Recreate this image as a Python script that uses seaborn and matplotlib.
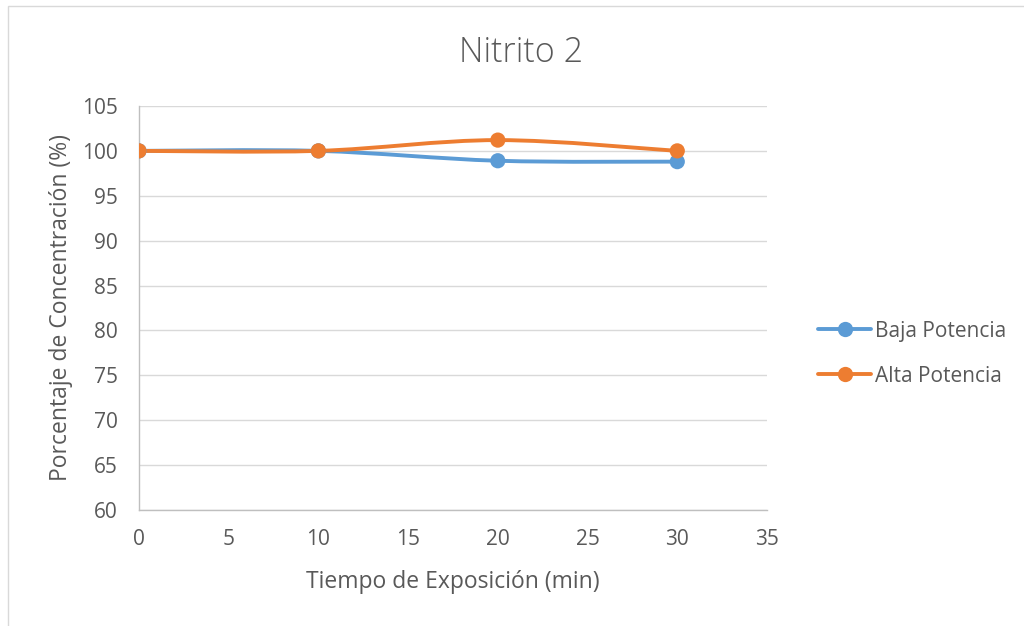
import numpy as np
import pandas as pd
import matplotlib
matplotlib.use("Agg")
import matplotlib.pyplot as plt
from matplotlib.path import Path
from matplotlib.patches import PathPatch, Rectangle
from matplotlib.lines import Line2D
import seaborn as sns

# Data
tiempo = [0, 10, 20, 30]
baja_potencia = [100.0, 100.0, 98.9, 98.8]
alta_potencia = [100.0, 100.0, 101.2, 100.0]
series_names = ["Baja Potencia", "Alta Potencia"]
x_ticks = [0, 5, 10, 15, 20, 25, 30, 35]
y_ticks = [60, 65, 70, 75, 80, 85, 90, 95, 100, 105]

colors = {"Baja Potencia": "#5B9BD5", "Alta Potencia": "#ED7D31"}
text_color = "#595959"

df = pd.DataFrame({
    "Tiempo": tiempo * 2,
    "Valor": baja_potencia + alta_potencia,
    "Serie": [series_names[0]] * len(tiempo) + [series_names[1]] * len(tiempo),
})

sns.set_theme(style="white")
plt.rcParams["font.family"] = ["Open Sans", "DejaVu Sans"]

fig = plt.figure(figsize=(10.24, 6.26), dpi=100)
ax = fig.add_axes([0.1357, 0.1853, 0.6133, 0.6454])

# Chart frame
fig.patches.append(Rectangle((8 / 1024, -0.01), 1.2, 1 - 6 / 626 + 0.01,
                             transform=fig.transFigure, fill=False,
                             edgecolor="#D9D9D9", linewidth=1.0))


def smooth_path(xs, ys):
    """Cardinal-spline style Bezier path through the points."""
    pts = np.column_stack([xs, ys]).astype(float)
    n = len(pts)
    verts = [pts[0]]
    codes = [Path.MOVETO]
    for i in range(n - 1):
        p0 = pts[i - 1] if i > 0 else pts[i]
        p1 = pts[i]
        p2 = pts[i + 1]
        p3 = pts[i + 2] if i + 2 < n else pts[i + 1]
        c1 = p1 + (p2 - p0) / 6.0
        c2 = p2 - (p3 - p1) / 6.0
        verts += [c1, c2, p2]
        codes += [Path.CURVE4] * 3
    return Path(verts, codes)


for name in series_names:
    sub = df[df["Serie"] == name]
    ax.add_patch(PathPatch(smooth_path(sub["Tiempo"], sub["Valor"]),
                           fill=False, edgecolor=colors[name], linewidth=2.8,
                           capstyle="round", zorder=3))

sns.scatterplot(data=df, x="Tiempo", y="Valor", hue="Serie", palette=colors,
                s=120, edgecolor="none", legend=False, ax=ax, zorder=4)

ax.set_xlim(0, 35)
ax.set_ylim(60, 105)
ax.set_xticks(x_ticks)
ax.set_yticks(y_ticks)
ax.yaxis.grid(True, color="#D9D9D9", linewidth=1.0)
ax.xaxis.grid(False)
for side in ["top", "right"]:
    ax.spines[side].set_visible(False)
for side in ["left", "bottom"]:
    ax.spines[side].set_color("#BFBFBF")
    ax.spines[side].set_linewidth(1.0)
ax.tick_params(axis="both", length=0, labelsize=15, labelcolor=text_color)
ax.tick_params(axis="y", pad=15)
ax.tick_params(axis="x", pad=14)

ax.set_xlabel("Tiempo de Exposición (min)", fontsize=16.5, color=text_color, labelpad=14)
ax.set_ylabel("Porcentaje de Concentración (%)", fontsize=16.5, color=text_color, labelpad=7)
fig.text(0.509, 0.915, "Nitrito 2", ha="center", va="center", fontsize=24.5,
         color=text_color, fontweight="light")

handles = [Line2D([0], [0], color=colors[n], linewidth=2.8, marker="o",
                  markersize=11, markeredgewidth=0) for n in series_names]
fig.legend(handles, series_names, loc="center left", bbox_to_anchor=(0.781, 0.435),
           frameon=False, fontsize=15, labelcolor=text_color, handlelength=2.5,
           handletextpad=0.2, labelspacing=1.15)

fig.savefig("out.png", dpi=100)
